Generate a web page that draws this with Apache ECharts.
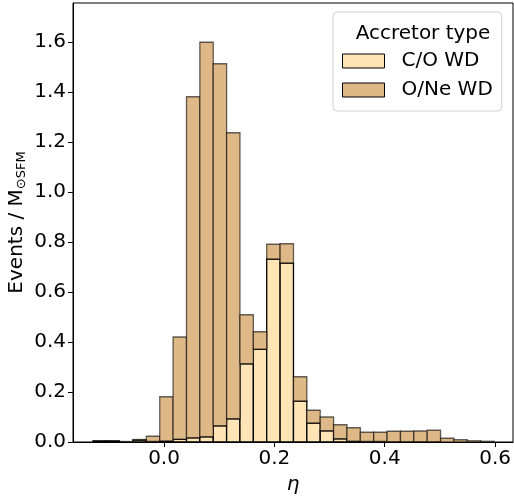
<!DOCTYPE html>
<html>
<head>
<meta charset="utf-8">
<script src="https://cdn.jsdelivr.net/npm/echarts@6/dist/echarts.min.js"></script>
<style>
  html, body { margin: 0; padding: 0; background: #fff; }
  #chart { width: 514px; height: 497px; }
</style>
</head>
<body>
<div id="chart"></div>
<script>
// 30 bins of the eta histogram
const binEdges = [
  -0.129, -0.1048, -0.0806, -0.0563, -0.0320, -0.0078, 0.0164, 0.0407, 0.0649, 0.0892,
  0.1134, 0.1376, 0.1619, 0.1861, 0.2104, 0.2346, 0.2588, 0.2831, 0.3073, 0.3316,
  0.3558, 0.3800, 0.4043, 0.4285, 0.4528, 0.4770, 0.5012, 0.5255, 0.5497, 0.5740, 0.5982
]
const coValues = [
  0.004, 0.004, 0, 0.008, 0.002, 0.004, 0.011, 0.017, 0.021, 0.065,
  0.093, 0.313, 0.371, 0.732, 0.716, 0.164, 0.076, 0.045, 0.013, 0.003,
  0.002, 0.002, 0.001, 0.001, 0.001, 0.001, 0, 0, 0, 0
]
const oneValues = [
  0, 0, 0.002, 0.002, 0.021, 0.177, 0.409, 1.364, 1.578, 1.448,
  1.144, 0.196, 0.070, 0.059, 0.077, 0.097, 0.051, 0.055, 0.056, 0.054,
  0.037, 0.037, 0.042, 0.042, 0.043, 0.046, 0.015, 0.009, 0.005, 0.003
]
const xTicks = [0.0, 0.2, 0.4, 0.6]
const yTicks = [0.0, 0.2, 0.4, 0.6, 0.8, 1.0, 1.2, 1.4, 1.6]

const coColor = '#FFE4B5'
const oneColor = '#DEB887'
const font = 'DejaVu Sans'
const fs = 20

// stacked: C/O at the bottom, O/Ne on top
const coData = coValues.map((v, i) => [binEdges[i], binEdges[i + 1], 0, v])
const oneData = oneValues.map((v, i) => [binEdges[i], binEdges[i + 1], coValues[i], coValues[i] + v])

const renderBin = (params, api) => {
  const p0 = api.coord([api.value(0), api.value(3)])
  const p1 = api.coord([api.value(1), api.value(2)])
  return {
    type: 'rect',
    shape: { x: p0[0], y: p0[1], width: p1[0] - p0[0], height: p1[1] - p0[1] },
    style: api.style()
  }
}

const chart = echarts.init(document.getElementById('chart'))
chart.setOption({
  animation: false,
  textStyle: { fontFamily: font },
  grid: {
    left: 73, right: 1, top: 3, bottom: 55,
    outerBoundsMode: 'none',
    show: true, borderColor: '#000', borderWidth: 1
  },
  title: {
    text: 'Accretor type',
    left: 418,
    top: 19,
    textAlign: 'center',
    textStyle: { fontFamily: font, fontSize: fs, fontWeight: 'normal', color: '#000' }
  },
  legend: {
    orient: 'vertical',
    left: 333,
    top: 12,
    padding: [38, 9, 10, 9],
    itemWidth: 42,
    itemHeight: 14,
    itemGap: 7,
    borderColor: '#d0d0d0',
    borderWidth: 1,
    borderRadius: 4,
    textStyle: { fontFamily: font, fontSize: fs, lineHeight: 22, color: '#000', padding: [0, 0, 0, 12] },
    data: [
      { name: 'C/O WD', icon: 'rect', itemStyle: { color: coColor, borderColor: '#000', borderWidth: 1 } },
      { name: 'O/Ne WD', icon: 'rect', itemStyle: { color: oneColor, borderColor: '#000', borderWidth: 1 } }
    ]
  },
  xAxis: {
    type: 'value',
    min: -0.165,
    max: 0.6325,
    name: 'η',
    nameLocation: 'middle',
    nameGap: 33,
    nameMoveOverlap: false,
    nameTextStyle: { fontFamily: font, fontSize: fs, fontStyle: 'italic', color: '#000' },
    axisLine: { onZero: false, lineStyle: { color: '#000', width: 1 } },
    axisTick: { customValues: xTicks, length: 5, lineStyle: { color: '#000' } },
    axisLabel: {
      customValues: xTicks,
      formatter: v => v.toFixed(1),
      margin: 7,
      fontFamily: font, fontSize: fs, color: '#000'
    },
    splitLine: { show: false }
  },
  yAxis: {
    type: 'value',
    min: 0,
    max: 1.756,
    name: '{m|Events / M}{s|⊙SFM}',
    nameLocation: 'middle',
    nameGap: 45,
    nameMoveOverlap: false,
    nameTextStyle: {
      fontFamily: font, fontSize: fs, color: '#000',
      rich: {
        m: { fontFamily: font, fontSize: fs, color: '#000', lineHeight: 22 },
        s: { fontFamily: font, fontSize: 13, color: '#000', lineHeight: 8, verticalAlign: 'bottom' }
      }
    },
    axisLine: { show: true, onZero: false, lineStyle: { color: '#000', width: 1 } },
    axisTick: { show: true, customValues: yTicks, length: 5, lineStyle: { color: '#000' } },
    axisLabel: {
      customValues: yTicks,
      formatter: v => v.toFixed(1),
      margin: 7,
      fontFamily: font, fontSize: fs, color: '#000'
    },
    splitLine: { show: false }
  },
  series: [
    {
      name: 'C/O WD',
      type: 'custom',
      renderItem: renderBin,
      encode: { x: [0, 1], y: [2, 3] },
      itemStyle: { color: coColor, borderColor: '#000', borderWidth: 1.3 },
      data: coData
    },
    {
      name: 'O/Ne WD',
      type: 'custom',
      renderItem: renderBin,
      encode: { x: [0, 1], y: [2, 3] },
      itemStyle: { color: oneColor, borderColor: 'rgba(0,0,0,0.6)', borderWidth: 1.3 },
      data: oneData
    }
  ]
})
</script>
</body>
</html>
